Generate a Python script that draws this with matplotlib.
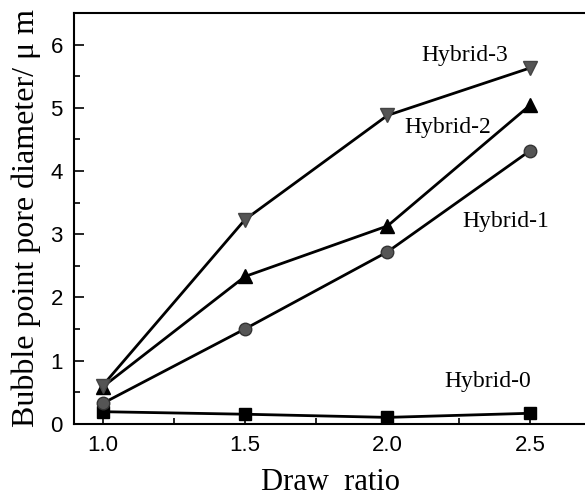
import matplotlib
matplotlib.use("Agg")
import matplotlib.pyplot as plt
from matplotlib.ticker import MultipleLocator, FormatStrFormatter

draw_ratio = [1.0, 1.5, 2.0, 2.5]
hybrid_0 = [0.19, 0.15, 0.10, 0.165]
hybrid_1 = [0.32, 1.50, 2.72, 4.32]
hybrid_2 = [0.58, 2.33, 3.13, 5.04]
hybrid_3 = [0.60, 3.23, 4.88, 5.63]

serif = "Liberation Serif"
sans = "Liberation Sans"

fig = plt.figure(figsize=(5.85, 5.0), dpi=100)
ax = fig.add_axes((74 / 585, 1 - 423.7 / 500, (587 - 74) / 585, (423.7 - 13) / 500))

ax.plot(draw_ratio, hybrid_0, color="black", lw=2, marker="s", ms=8, mfc="black", mec="black")
ax.plot(draw_ratio, hybrid_1, color="black", lw=2, marker="o", ms=9, mfc="#555555", mec="#333333")
ax.plot(draw_ratio, hybrid_2, color="black", lw=2, marker="^", ms=10, mfc="black", mec="black")
ax.plot(draw_ratio, hybrid_3, color="black", lw=2, marker="v", ms=10, mfc="#555555", mec="#444444")

ax.text(2.27, 5.82, "Hybrid-3", family=serif, fontsize=17, ha="center", va="center")
ax.text(2.21, 4.69, "Hybrid-2", family=serif, fontsize=17, ha="center", va="center")
ax.text(2.415, 3.2, "Hybrid-1", family=serif, fontsize=17, ha="center", va="center")
ax.text(2.35, 0.67, "Hybrid-0", family=serif, fontsize=17, ha="center", va="center")

ax.set_xlim(0.9, 2.7)
ax.set_ylim(0, 6.5)
ax.xaxis.set_major_locator(MultipleLocator(0.5))
ax.xaxis.set_minor_locator(MultipleLocator(0.25))
ax.xaxis.set_major_formatter(FormatStrFormatter("%.1f"))
ax.yaxis.set_major_locator(MultipleLocator(1))
ax.yaxis.set_minor_locator(MultipleLocator(0.5))
ax.tick_params(which="both", direction="in", top=False, right=False, width=1.2)
ax.tick_params(which="major", length=7, labelsize=16, pad=8, labelfontfamily=sans)
ax.tick_params(which="minor", length=4)
for sp in ax.spines.values():
    sp.set_linewidth(1.5)

ax.set_xlabel("Draw  ratio", family=serif, fontsize=22, labelpad=9)
ax.set_ylabel("Bubble point pore diameter/ \u03bc m", family=serif, fontsize=23, labelpad=7)

fig.savefig("out.png", dpi=100)
